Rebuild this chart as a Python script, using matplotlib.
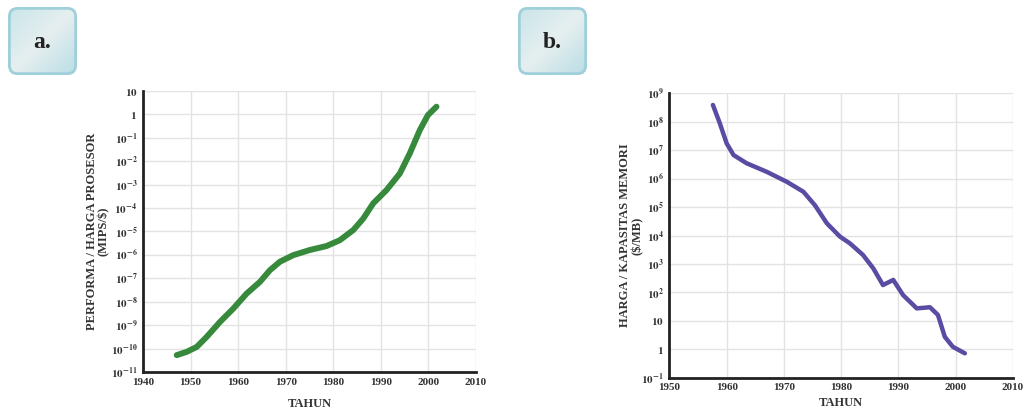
import numpy as np
import matplotlib
matplotlib.use("Agg")
import matplotlib.pyplot as plt
from matplotlib.patches import FancyBboxPatch

# ---- data ----
years_a = [1947.1, 1949.2, 1951.3, 1953.4, 1956.2, 1959.0, 1961.8, 1964.6, 1966.7,
           1968.8, 1971.6, 1975.1, 1978.6, 1981.4, 1984.2, 1986.3, 1988.4, 1991.2,
           1994.0, 1996.1, 1998.2, 1999.9, 2001.7]
log_perf_a = [-10.28, -10.14, -9.93, -9.50, -8.86, -8.29, -7.65, -7.15, -6.65,
              -6.29, -6.01, -5.79, -5.62, -5.37, -4.94, -4.45, -3.80, -3.23,
              -2.52, -1.66, -0.67, -0.03, 0.33]

years_b = [1957.6, 1958.8, 1960.0, 1961.2, 1963.5, 1967.0, 1970.5, 1973.4, 1975.4,
           1977.5, 1979.8, 1981.5, 1983.8, 1985.6, 1987.3, 1989.1, 1990.8, 1993.2,
           1995.5, 1996.9, 1998.1, 1999.5, 2001.6]
log_price_b = [8.59, 7.95, 7.24, 6.83, 6.54, 6.24, 5.89, 5.54, 5.07, 4.43, 3.96,
               3.73, 3.32, 2.85, 2.26, 2.44, 1.91, 1.44, 1.48, 1.21, 0.44, 0.09, -0.14]

xticks_a = [1940, 1950, 1960, 1970, 1980, 1990, 2000, 2010]
yexp_a = list(range(-11, 2))
xticks_b = [1950, 1960, 1970, 1980, 1990, 2000, 2010]
yexp_b = list(range(-1, 10))

xlabel = "TAHUN"
ylabel_a = "PERFORMA / HARGA PROSESOR\n(MIPS/\\$)"
ylabel_b = "HARGA / KAPASITAS MEMORI\n(\\$/MB)"

plt.rcParams['font.family'] = ['Liberation Serif', 'DejaVu Serif']
plt.rcParams['mathtext.fontset'] = 'stix'

fig = plt.figure(figsize=(10.24, 4.09), dpi=100)


def label(e):
    if e == 0:
        return r"$\mathbf{1}$"
    if e == 1:
        return r"$\mathbf{10}$"
    return r"$\mathbf{10^{%d}}$" % e


def style(ax, xticks, yexp, xl, yl, ylx, xpad):
    ax.set_yscale('log')
    ax.set_xticks(xticks)
    ax.set_xticklabels([str(t) for t in xticks], fontsize=8, fontweight='bold', color='#333333')
    ax.set_yticks([10.0 ** e for e in yexp])
    ax.set_yticklabels([label(e) for e in yexp], fontsize=8, color='#333333')
    ax.minorticks_off()
    ax.set_xlim(xticks[0], xticks[-1])
    ax.set_ylim(10.0 ** yexp[0], 10.0 ** yexp[-1])
    ax.grid(True, color='#e3e3e3', linewidth=1.0)
    ax.set_axisbelow(True)
    for s in ['top', 'right']:
        ax.spines[s].set_visible(False)
    for s in ['left', 'bottom']:
        ax.spines[s].set_linewidth(2.0)
        ax.spines[s].set_color('#222222')
    ax.tick_params(length=0, pad=4)
    ax.set_xlabel(xl, fontsize=9, fontweight='bold', color='#333333', labelpad=xpad)
    ax.set_ylabel(yl, fontsize=9, fontweight='bold', color='#333333',
                  linespacing=1.0, va='center')
    ax.yaxis.set_label_coords(ylx, 0.5)


ax1 = fig.add_axes([0.1396, 0.0905, 0.3252, 0.687])
ax1.plot(years_a, [10.0 ** v for v in log_perf_a], color='#378a3c', linewidth=4.3,
         solid_capstyle='round', solid_joinstyle='round')
style(ax1, xticks_a, yexp_a, xlabel, ylabel_a, -0.135, 8)

ax2 = fig.add_axes([0.6537, 0.0763, 0.3355, 0.6956])
ax2.plot(years_b, [10.0 ** v for v in log_price_b], color='#5a4ba3', linewidth=3.2,
         solid_capstyle='round', solid_joinstyle='round')
style(ax2, xticks_b, yexp_b, xlabel, ylabel_b, -0.11, 3)


def panel_box(x0, text):
    w, h = 69 / 1024, 68 / 409
    left, bottom = x0 / 1024, 1 - 75 / 409
    bax = fig.add_axes([left, bottom, w, h])
    bax.set_axis_off()
    bax.set_xlim(0, 1)
    bax.set_ylim(0, 1)
    gx, gy = np.meshgrid(np.linspace(0, 1, 60), np.linspace(0, 1, 60))
    grad = 0.5 * gx + 0.5 * gy
    cmap = matplotlib.colors.LinearSegmentedColormap.from_list(
        'g', ['#c9e5ea', '#e6eff0', '#b9dde5'])
    im = bax.imshow(grad, extent=[0, 1, 0, 1], cmap=cmap, aspect='auto', origin='upper')
    patch = FancyBboxPatch((0.02, 0.02), 0.96, 0.96, boxstyle='round,pad=0,rounding_size=0.12',
                           facecolor='none', edgecolor='#9fd0da', linewidth=2.0,
                           transform=bax.transAxes)
    bax.add_patch(patch)
    im.set_clip_path(patch)
    bax.text(0.5, 0.48, text, ha='center', va='center', fontsize=17, fontweight='bold',
             color='#222222')


panel_box(8, 'a.')
panel_box(518, 'b.')

fig.savefig('out.png', dpi=100)
